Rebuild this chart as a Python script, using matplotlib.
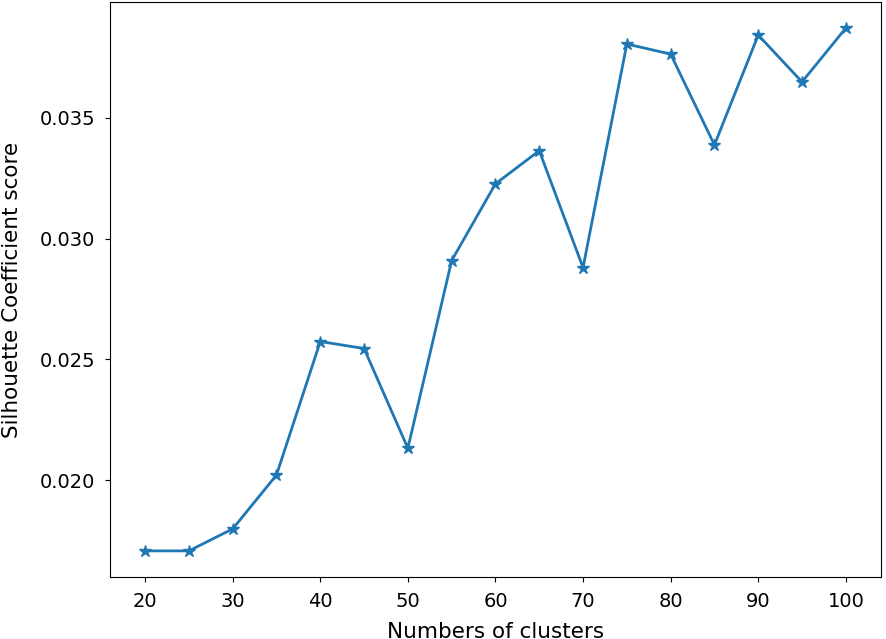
import matplotlib
matplotlib.use("Agg")
import matplotlib.pyplot as plt

n_clusters = [20, 25, 30, 35, 40, 45, 50, 55, 60, 65, 70, 75, 80, 85, 90, 95, 100]
silhouette = [0.01707, 0.01707, 0.01798, 0.02021, 0.02574, 0.02545, 0.02132, 0.02909,
              0.03227, 0.03364, 0.02880, 0.03806, 0.03764, 0.03388, 0.03843, 0.03649, 0.03872]

plt.rcParams["font.size"] = 14
plt.rcParams["xtick.major.pad"] = 7
plt.rcParams["ytick.major.pad"] = 7

fig = plt.figure(figsize=(8.86, 6.39), dpi=100)
ax = fig.add_axes([0.1242, 0.097, 0.870, 0.900])
ax.plot(n_clusters, silhouette, marker="*", color="#1f77b4", linewidth=2, markersize=9)
ax.set_xticks([20, 30, 40, 50, 60, 70, 80, 90, 100])
ax.set_xlabel("Numbers of clusters", fontsize=15.5, labelpad=8)
ax.set_ylabel("Silhouette Coefficient score", fontsize=15.5, labelpad=13)

fig.savefig("out.png", dpi=100)
